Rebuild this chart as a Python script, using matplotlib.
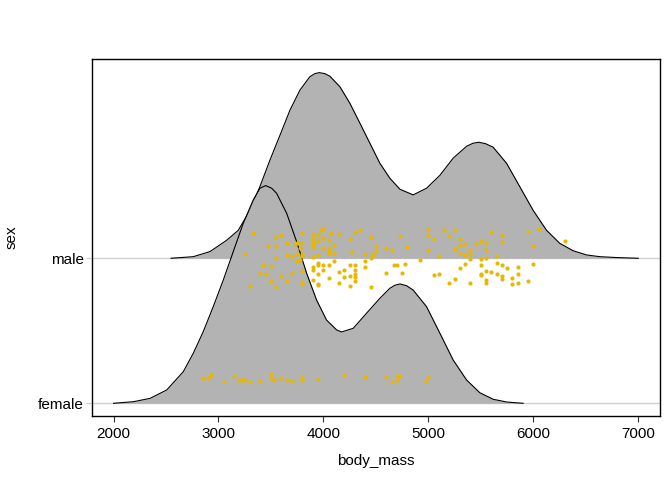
import matplotlib
matplotlib.use("Agg")
import matplotlib.pyplot as plt
from matplotlib.patches import Rectangle

# ---- data ----
categories = ["female", "male"]
cat_pos = [1, 2]

# density ridge heights (in units of row spacing) at body_mass values
male_x = [2548, 2760, 2919, 3078, 3189, 3300, 3395, 3490, 3586, 3681, 3776, 3871,
          3919, 3960, 4014, 4062, 4157, 4252, 4348, 4443, 4538, 4633, 4729, 4855,
          4983, 5110, 5236, 5364, 5425, 5481, 5545, 5617, 5745, 5871, 5998, 6126,
          6252, 6379, 6507, 6633, 6792, 7000]
male_h = [0.0, 0.011, 0.046, 0.124, 0.193, 0.331, 0.494, 0.676, 0.848, 1.021, 1.159, 1.252,
          1.273, 1.280, 1.273, 1.255, 1.183, 1.069, 0.931, 0.793, 0.655, 0.552, 0.476, 0.437,
          0.483, 0.572, 0.690, 0.772, 0.793, 0.800, 0.790, 0.766, 0.655, 0.494, 0.331, 0.193,
          0.103, 0.052, 0.023, 0.011, 0.005, 0.0]

female_x = [2000, 2189, 2348, 2507, 2665, 2760, 2855, 2950, 3046, 3141, 3236, 3331,
            3395, 3450, 3507, 3554, 3650, 3745, 3840, 3935, 4030, 4126, 4173, 4284,
            4411, 4538, 4633, 4681, 4729, 4792, 4855, 4983, 5110, 5236, 5364, 5490,
            5617, 5745, 5903]
female_h = [0.0, 0.011, 0.034, 0.092, 0.218, 0.345, 0.494, 0.666, 0.850, 1.046, 1.241, 1.402,
            1.483, 1.501, 1.483, 1.448, 1.310, 1.114, 0.897, 0.712, 0.574, 0.506, 0.492, 0.517,
            0.621, 0.724, 0.793, 0.814, 0.823, 0.811, 0.781, 0.666, 0.483, 0.299, 0.161, 0.073,
            0.028, 0.009, 0.0]

# jittered points: body_mass and vertical jitter offset from the row baseline
male_mass = [3325, 3250, 3550, 3600, 3475, 3550, 3650, 3550, 3650, 3425, 3500, 3400,
             3450, 3500, 3600, 3650, 3300, 3550, 3700, 3800, 3725, 3750, 3800, 3775,
             3700, 3750, 3800, 3800, 3750, 3775, 3800, 3800, 3800, 3900, 3950, 3975,
             4000, 4075, 4150, 3900, 3900, 3900, 3950, 4000, 4050, 4100, 4000, 4050,
             4050, 4100, 3950, 3900, 3950, 3950, 3900, 3900, 4000, 4050, 4100, 3950,
             4000, 4050, 3900, 3950, 3950, 4150, 4150, 4200, 4200, 4250, 4300, 4250,
             4300, 4300, 4300, 4300, 4250, 4450, 4250, 4300, 4350, 4450, 4275, 4400,
             4400, 4400, 4450, 4475, 4500, 4500, 5000, 5000, 5150, 5250, 5200, 5050,
             4725, 4600, 4650, 4800, 5000, 5100, 5300, 5300, 5350, 5250, 5300, 5350,
             5400, 5400, 5400, 5450, 5500, 5550, 5550, 5600, 5700, 5700, 5650, 5500,
             5550, 5950, 6050, 6000, 6300, 4675, 4700, 4775, 4925, 4600, 4750, 5050,
             5100, 5200, 5250, 5300, 5350, 5400, 5500, 5500, 5500, 5550, 5600, 5550,
             5550, 5650, 5650, 5700, 5700, 5700, 5750, 5800, 5800, 5850, 5850, 5850,
             5950, 6000]
male_jit = [0.174, 0.032, 0.149, 0.159, 0.083, 0.083, 0.108, 0.002, 0.025, -0.048, -0.055, -0.101,
            -0.110, -0.159, -0.124, -0.157, -0.193, -0.198, -0.099, 0.174, 0.101, 0.108, 0.108, 0.071,
            0.014, 0.028, 0.032, 0.014, -0.021, -0.014, -0.090, -0.163, -0.179, 0.166, 0.159, 0.193,
            0.202, 0.174, 0.168, 0.131, 0.106, 0.078, 0.117, 0.140, 0.124, 0.092, 0.071, 0.062,
            0.037, 0.037, 0.025, 0.009, -0.030, -0.044, -0.060, -0.079, -0.044, -0.048, -0.021, -0.106,
            -0.083, -0.136, -0.148, -0.175, -0.186, -0.094, -0.168, -0.079, -0.129, -0.044, -0.044, -0.122,
            -0.079, -0.110, -0.129, -0.159, -0.193, -0.198, 0.135, 0.181, 0.193, 0.147, 0.043, 0.032,
            -0.021, -0.060, 0.004, 0.021, 0.083, 0.048, 0.200, 0.163, 0.193, 0.197, 0.154, 0.131,
            0.152, 0.071, 0.059, 0.078, 0.055, 0.016, 0.131, 0.094, 0.101, 0.062, 0.039, 0.021,
            0.055, 0.032, -0.003, 0.101, 0.117, 0.108, 0.055, 0.181, 0.159, 0.112, 0.014, -0.003,
            0.002, 0.181, 0.200, 0.085, 0.121, -0.044, -0.048, -0.037, -0.014, -0.101, -0.101, -0.117,
            -0.106, -0.168, -0.145, -0.067, -0.037, -0.170, -0.048, -0.113, -0.106, -0.090, -0.094, -0.148,
            -0.170, -0.030, -0.106, -0.048, -0.122, -0.145, -0.067, -0.134, -0.179, -0.060, -0.106, -0.168,
            -0.159, -0.037]

female_mass = [2850, 2900, 2925, 3050, 3150, 3200, 3225, 3250, 3300, 3400, 3500, 3500,
               3525, 3600, 3650, 3700, 3800, 3800, 3950, 4200, 4400, 4600, 4650, 4700,
               4725, 4700, 4975, 5000]
female_jit = [0.172, 0.172, 0.195, 0.149, 0.190, 0.161, 0.161, 0.161, 0.149, 0.154, 0.200, 0.172,
              0.161, 0.172, 0.161, 0.154, 0.179, 0.161, 0.166, 0.197, 0.183, 0.183, 0.149, 0.190,
              0.190, 0.161, 0.156, 0.179]

x_ticks = [2000, 3000, 4000, 5000, 6000, 7000]

# ---- figure ----
plt.rcParams['font.family'] = ['Liberation Sans', 'DejaVu Sans']
fig = plt.figure(figsize=(6.72, 4.8), dpi=100)
ax = fig.add_axes([0.1369, 0.1333, 0.8457, 0.7432])

fill_col = "#B3B3B3"
pt_col = "#E7B800"

# grid lines at category positions
for p in cat_pos:
    ax.axhline(p, color="#D0D0D0", lw=1.0, zorder=0)

# male ridge (upper) drawn first, female on top
mbase = cat_pos[1]
ax.fill_between(male_x, [mbase] * len(male_x), [mbase + h for h in male_h],
                color=fill_col, lw=0, zorder=1)
ax.plot(male_x, [mbase + h for h in male_h], color="black", lw=0.8, zorder=2)

fbase = cat_pos[0]
ax.fill_between(female_x, [fbase] * len(female_x), [fbase + h for h in female_h],
                color=fill_col, lw=0, zorder=3)
ax.plot(female_x, [fbase + h for h in female_h], color="black", lw=0.8, zorder=4)

# points
ax.scatter(male_mass, [mbase + j for j in male_jit], s=9, color=pt_col,
           linewidths=0, zorder=5)
fsc = ax.scatter(female_mass, [fbase + j for j in female_jit], s=9, color=pt_col,
                 linewidths=0, zorder=5)
clip = Rectangle((1000, fbase + 0.147), 8000, 1.0, transform=ax.transData)
fsc.set_clip_path(clip)

ax.set_xlim(1795, 7210)
ax.set_ylim(0.9124, 3.372)

ax.set_xticks(x_ticks)
ax.set_xticklabels([str(t) for t in x_ticks])
ax.set_yticks(cat_pos)
ax.set_yticklabels(categories)

ax.tick_params(axis="x", direction="out", length=4, width=0.8, color="#333333",
               labelsize=11, labelcolor="black", pad=4)
ax.tick_params(axis="y", direction="out", length=4, width=0.8, color="#CCCCCC",
               labelsize=11, labelcolor="black", pad=2)

for s in ax.spines.values():
    s.set_color("black")
    s.set_linewidth(1.0)

ax.set_xlabel("body_mass", fontsize=11, labelpad=9)
ax.set_ylabel("sex", fontsize=11, labelpad=14)

fig.savefig("out.png", dpi=100)
